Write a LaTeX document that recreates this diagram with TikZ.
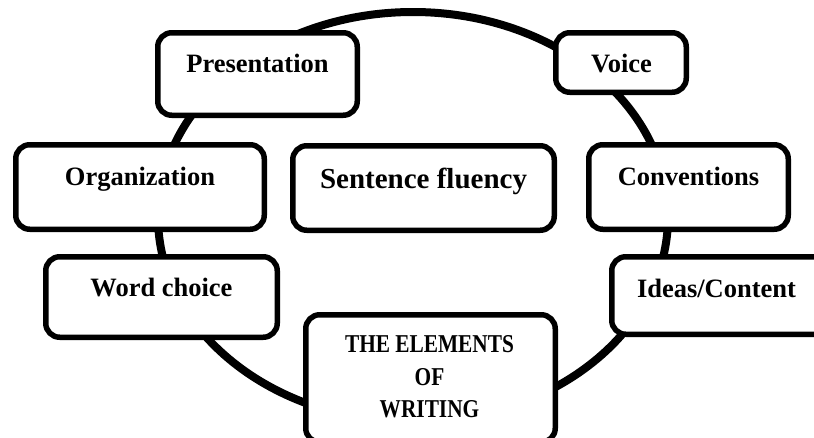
\documentclass[tikz,border=0pt]{standalone}
\usepackage{fontspec}
\setmainfont{Liberation Serif}
\newfontfamily\elfont[FakeStretch=0.83]{Liberation Serif}
\usetikzlibrary{shapes.geometric}
\begin{document}
\begin{tikzpicture}[x=1pt,y=-1pt,
  ringline/.style={draw=black, line width=8pt, ellipse, inner sep=0pt},
  textbox/.style={draw=black, fill=white, line width=5.5pt, rounded corners=14pt, inner sep=0pt},
  lab/.style={anchor=base, inner sep=0pt, font=\fontsize{26.5}{30}\selectfont\bfseries},
  biglab/.style={anchor=base, inner sep=0pt, font=\fontsize{29}{33}\selectfont\bfseries},
  ellab/.style={anchor=base, inner sep=0pt, font=\fontsize{25.7}{32}\selectfont\elfont\bfseries}
]
\useasboundingbox (0,0) rectangle (814,437);
\fill[white] (0,0) rectangle (814,437);
% ring behind the boxes
\node (ring) [ringline, minimum width=510pt, minimum height=410pt] at (413,217) {};
% boxes (sizes measured on stroke centres)
\node (pres)  [textbox, minimum width=199.5pt, minimum height=82.5pt] at (257.5,74) {};
\node (org)   [textbox, minimum width=248.5pt, minimum height=84.5pt] at (140,187) {};
\node (sent)  [textbox, minimum width=261.5pt, minimum height=84.5pt] at (423.5,188) {};
\node (voice) [textbox, minimum width=130.5pt, minimum height=59.5pt] at (621,62.5) {};
\node (conv)  [textbox, minimum width=199.5pt, minimum height=84.5pt] at (688.5,187) {};
\node (word)  [textbox, minimum width=231.5pt, minimum height=80.5pt] at (161.5,297) {};
\node (ideas) [textbox, minimum width=225.5pt, minimum height=77.5pt] at (724.5,295.5) {};
\node (elem)  [textbox, minimum width=249.5pt, minimum height=127.5pt] at (430.5,378.5) {};
% texts
\node (presT)  [lab] at (257.5,72) {Presentation};
\node (orgT)   [lab] at (140,185) {Organization};
\node (sentT)  [biglab] at (423.5,188) {Sentence fluency};
\node (voiceT) [lab] at (621.5,72) {Voice};
\node (convT)  [lab] at (688.5,185) {Conventions};
\node (wordT)  [lab] at (161.5,296) {Word choice};
\node (ideasT) [lab] at (716.5,297) {Ideas/Content};
\node (elemA)  [ellab] at (429.5,352) {THE ELEMENTS};
\node (elemB)  [ellab] at (429.5,385) {OF};
\node (elemC)  [ellab] at (429.5,417) {WRITING};
\end{tikzpicture}
\end{document}
